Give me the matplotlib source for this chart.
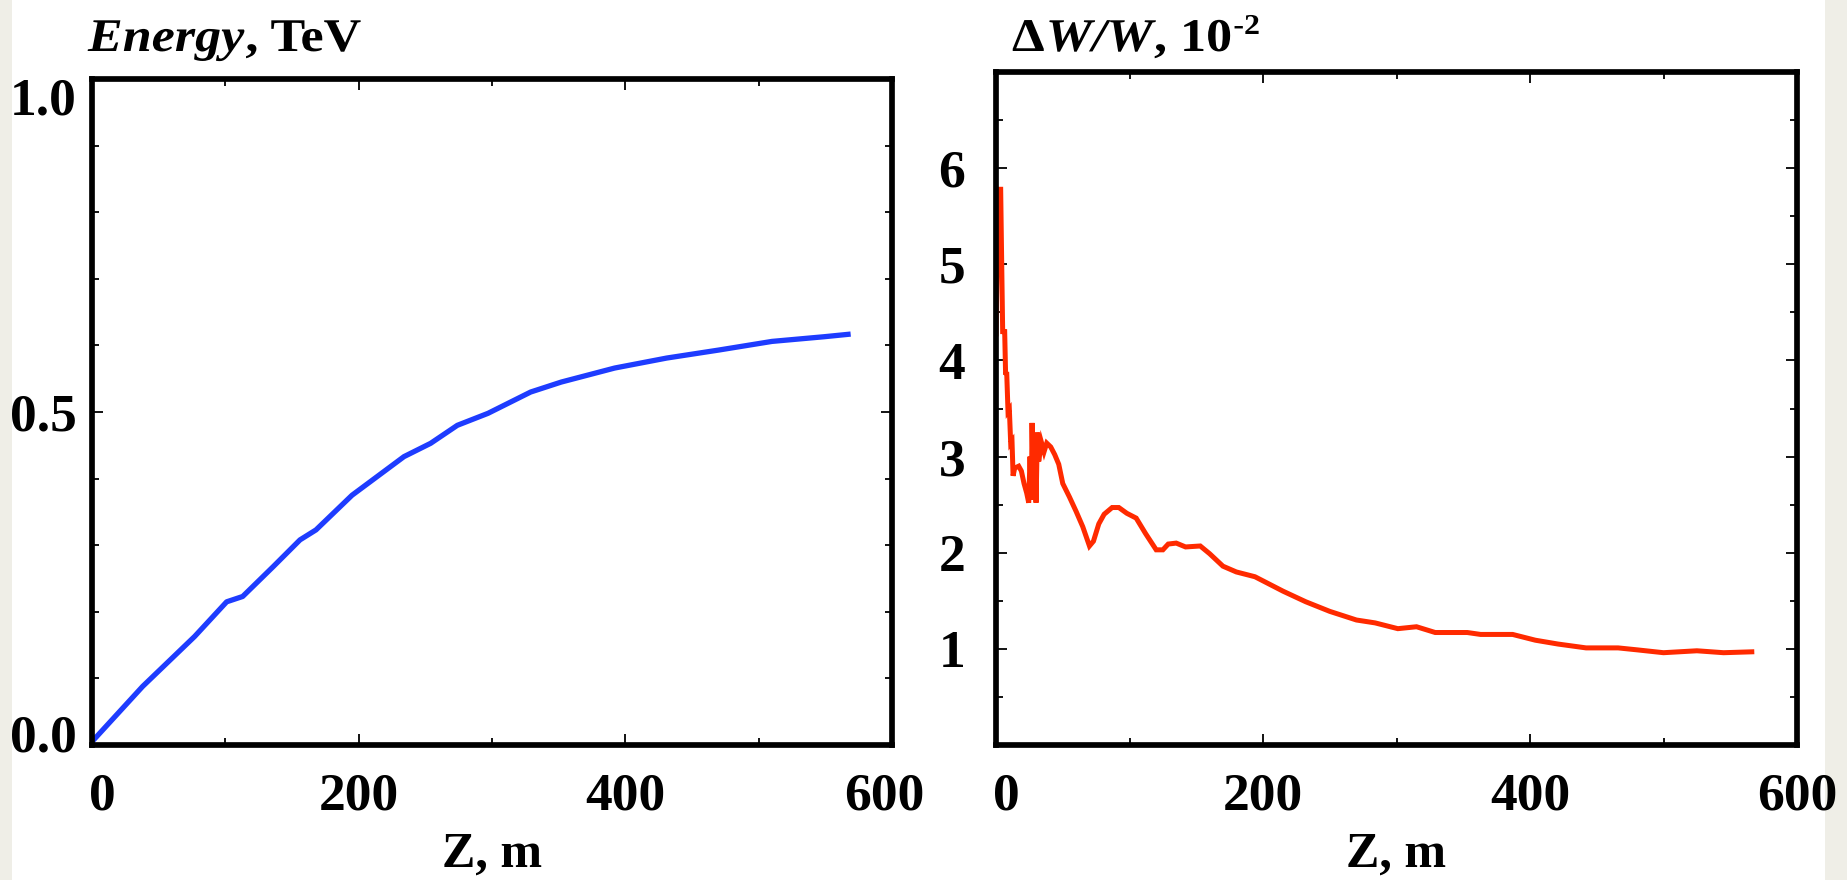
import matplotlib
matplotlib.use("Agg")
import matplotlib.pyplot as plt
from matplotlib.patches import Rectangle
from matplotlib.patheffects import AbstractPathEffect
from matplotlib.ticker import MultipleLocator
from matplotlib.transforms import Affine2D, ScaledTranslation

plt.rcParams["font.family"] = ["Liberation Serif", "DejaVu Serif"]
plt.rcParams["font.weight"] = "bold"

# beam energy along the channel
z_energy = [0, 38, 77, 101, 113, 136, 156, 168, 195, 234, 254, 274, 297,
            329, 352, 392, 431, 470, 510, 549, 569]
energy = [0.005, 0.088, 0.163, 0.215, 0.223, 0.268, 0.308, 0.323, 0.375,
          0.433, 0.453, 0.480, 0.498, 0.530, 0.545, 0.566, 0.581, 0.593,
          0.606, 0.613, 0.617]

# relative energy spread, in units of 1e-2
z_spread = [0, 0.8, 1.5, 3.5, 4.2, 5, 6.5, 7.2, 8, 9, 10, 11, 12, 12.8, 14,
            17, 19, 21, 23, 24.5, 25.5, 26.5, 27, 28, 29, 30, 31, 32, 34, 36,
            38, 41, 44, 47, 50, 55, 60, 65, 70, 73, 77, 81, 87, 92, 98, 105,
            112, 120, 125, 129, 135, 142, 153, 160, 170, 180, 194, 215, 232,
            250, 270, 284, 301, 315, 329, 353, 363, 387, 404, 421, 442, 466,
            480, 500, 525, 545, 568]
spread = [4.25, 5.0, 5.78, 5.78, 5.08, 4.3, 4.3, 3.85, 3.88, 3.47, 3.49, 3.14,
          3.16, 2.8, 2.88, 2.90, 2.85, 2.72, 2.62, 2.52, 3.0, 2.55, 3.35, 2.6,
          3.1, 2.52, 3.25, 2.95, 3.15, 3.05, 3.14, 3.10, 3.02, 2.92, 2.72,
          2.58, 2.43, 2.27, 2.07, 2.12, 2.30, 2.40, 2.47, 2.47, 2.41, 2.36,
          2.20, 2.03, 2.03, 2.09, 2.10, 2.06, 2.07, 1.99, 1.86, 1.80, 1.75,
          1.60, 1.49, 1.39, 1.30, 1.27, 1.21, 1.23, 1.17, 1.17, 1.15, 1.15,
          1.09, 1.05, 1.01, 1.01, 0.99, 0.96, 0.98, 0.96, 0.97]

x_ticks = [0, 200, 400, 600]
energy_ticks = [0.0, 0.5, 1.0]
energy_ticklabels = ["0.0", "0.5", "1.0"]
spread_ticks = [1, 2, 3, 4, 5, 6]

W, H = 1847, 880
fig = plt.figure(figsize=(W / 100, H / 100), dpi=100, facecolor="white")


class Squash(AbstractPathEffect):
    """Scale glyphs vertically about their baseline."""

    def __init__(self, sy):
        super().__init__()
        self.sy = sy

    def draw_path(self, renderer, gc, tpath, affine, rgbFace=None):
        renderer.draw_path(gc, tpath, Affine2D().scale(1, self.sy) + affine,
                           rgbFace)


# pale side margins
side = "#EFEEE7"
fig.patches.append(Rectangle((0, 0), 12 / W, 1, transform=fig.transFigure,
                             facecolor=side, edgecolor="none", zorder=-1))
fig.patches.append(Rectangle((1825 / W, 0), 22 / W, 1, transform=fig.transFigure,
                             facecolor=side, edgecolor="none", zorder=-1))

ax1 = fig.add_axes([92 / W, 1 - 745 / H, 800 / W, 666 / H])
ax2 = fig.add_axes([996 / W, 1 - 745 / H, 801 / W, 673 / H])


def nudge(label, dx=0, dy=0):
    off = ScaledTranslation(dx / 100, dy / 100, fig.dpi_scale_trans)
    label.set_transform(label.get_transform() + off)


def style(ax, ypad):
    for s in ax.spines.values():
        s.set_linewidth(4.1)
    ax.tick_params(which="both", direction="in", top=True, right=True,
                   width=1.3, colors="black")
    ax.tick_params(which="major", length=8)
    ax.tick_params(which="minor", length=5)
    ax.tick_params(axis="x", which="major", pad=20, labelsize=38.5)
    ax.tick_params(axis="y", which="major", pad=ypad, labelsize=38.5)
    ax.set_xlim(0, 600)
    ax.set_xticks(x_ticks)
    ax.xaxis.set_minor_locator(MultipleLocator(100))
    ax.set_xlabel("Z, m", fontsize=36, fontweight="bold", labelpad=8)


ax1.plot(z_energy, energy, color="#1E3CFF", linewidth=3.8,
         solid_capstyle="butt", solid_joinstyle="round")
style(ax1, 11)
ax1.set_ylim(0, 1.0)
ax1.set_yticks(energy_ticks)
ax1.set_yticklabels(energy_ticklabels)
ax1.yaxis.set_minor_locator(MultipleLocator(0.1))

ax2.plot(z_spread, spread, color="#FF2A00", linewidth=3.6,
         solid_capstyle="butt", solid_joinstyle="miter")
style(ax2, 22)
ax2.set_ylim(0, 7)
ax2.set_yticks(spread_ticks)
ax2.yaxis.set_minor_locator(MultipleLocator(0.5))

# edge labels sit a little inside the frame
xl1 = ax1.get_xticklabels()
nudge(xl1[0], dx=10)
nudge(xl1[-1], dx=-8)
nudge(ax2.get_xticklabels()[0], dx=10)
yl1 = ax1.get_yticklabels()
nudge(yl1[0], dy=12)
nudge(yl1[-1], dy=-17)

# titles built from runs of upright / italic text
renderer = fig.canvas.get_renderer()


def title_runs(x, y, runs):
    for text, style_, size, rise in runs:
        t = fig.text(x / W, (H - y + rise) / H, text, fontsize=size,
                     fontweight="bold", fontstyle=style_, ha="left",
                     va="baseline", path_effects=[Squash(0.9)])
        x = t.get_window_extent(renderer).x1 + 1


title_runs(88, 51, [("Energy", "italic", 37.5, 0),
                    (", TeV", "normal", 37.5, 0)])
title_runs(1012, 51, [("\u0394", "normal", 37.5, 0),
                      ("W/W", "italic", 37.5, 0),
                      (", 10", "normal", 37.5, 0),
                      ("-2", "normal", 23, 17)])

fig.savefig("out.png", dpi=100, facecolor=fig.get_facecolor())
